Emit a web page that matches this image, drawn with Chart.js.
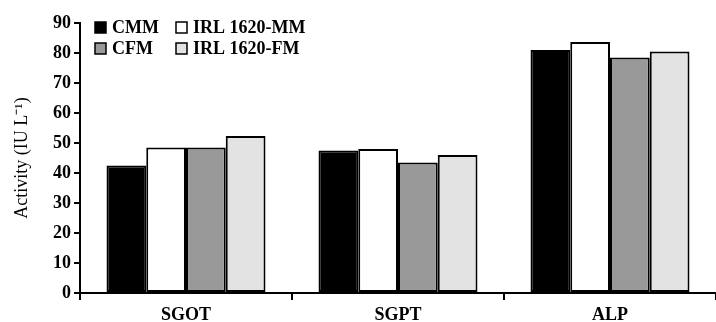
<!DOCTYPE html>
<html><head><meta charset="utf-8">
<script src="https://cdn.jsdelivr.net/npm/chart.js@4"></script>
<style>html,body{margin:0;padding:0;background:#fff}#wrap{width:716px;height:322px;position:relative}</style>
</head><body><div id="wrap"><canvas id="c"></canvas></div>
<script>
const categories = ['SGOT', 'SGPT', 'ALP'];
const seriesNames = ['CMM', 'IRL 1620-MM', 'CFM', 'IRL 1620-FM'];
const cmm   = [42.5, 47.5, 81.0];
const irlMM = [48.5, 48.0, 83.7];
const cfm   = [48.5, 43.5, 78.5];
const irlFM = [52.3, 46.0, 80.5];
const yTicks = [0, 10, 20, 30, 40, 50, 60, 70, 80, 90];
const seriesColors = ['#000000', '#ffffff', '#999999', '#e3e3e3'];

const FONT = '"Liberation Serif", "Times New Roman", serif';

const legendPlugin = {
  id: 'gridLegend',
  afterDraw(chart) {
    const ctx = chart.ctx;
    const a = chart.chartArea;
    const cols = [a.left + 15, a.left + 96];
    const rows = [a.top + 4, a.top + 25];
    const order = [[0, 1], [2, 3]];
    ctx.save();
    ctx.font = 'bold 18px ' + FONT;
    ctx.textBaseline = 'middle';
    ctx.textAlign = 'left';
    order.forEach((r, ri) => r.forEach((si, ci) => {
      const x = cols[ci], y = rows[ri];
      ctx.fillStyle = seriesColors[si];
      ctx.fillRect(x, y - 5, 11, 11);
      ctx.strokeStyle = '#000';
      ctx.lineWidth = 1.5;
      ctx.strokeRect(x, y - 5, 11, 11);
      ctx.fillStyle = '#000';
      ctx.fillText(chart.data.datasets[si].label, x + 17, y + 1);
    }));
    ctx.restore();
  }
};

const datasets = [cmm, irlMM, cfm, irlFM].map((d, i) => ({
  label: seriesNames[i],
  data: d,
  backgroundColor: seriesColors[i],
  borderColor: '#000',
  borderWidth: 2,
  borderSkipped: false,
  categoryPercentage: 0.75,
  barPercentage: 1.0
}));

new Chart(document.getElementById('c'), {
  type: 'bar',
  data: { labels: categories, datasets },
  plugins: [legendPlugin],
  options: {
    responsive: true,
    maintainAspectRatio: false,
    animation: false,
    layout: { padding: { top: 23, right: 0, bottom: 0, left: 0 } },
    plugins: { legend: { display: false }, tooltip: { enabled: false } },
    scales: {
      x: {
        grid: {
          drawOnChartArea: false, drawTicks: true, tickLength: 7, lineWidth: 2, offset: true,
          color: c => (c.index === categories.length ? 'rgba(0,0,0,0)' : '#000')
        },
        border: { display: true, color: '#000', width: 2 },
        ticks: { color: '#000', font: { family: FONT, size: 18, weight: 'bold' }, padding: 5 },
        afterFit(s) { s.height = 29; }
      },
      y: {
        min: 0, max: 90,
        afterBuildTicks(s) { s.ticks = yTicks.map(v => ({ value: v })); },
        grid: { drawOnChartArea: false, drawTicks: true, tickLength: 6, color: '#000', lineWidth: 2 },
        border: { display: true, color: '#000', width: 2 },
        ticks: { color: '#000', font: { family: FONT, size: 18, weight: 'bold' }, padding: 3 },
        title: { display: true, text: 'Activity (IU L⁻¹)', color: '#000', font: { family: FONT, size: 18 }, padding: { top: 11, bottom: 0 } },
        afterFit(s) { s.width = 80; }
      }
    }
  }
});
</script></body></html>
